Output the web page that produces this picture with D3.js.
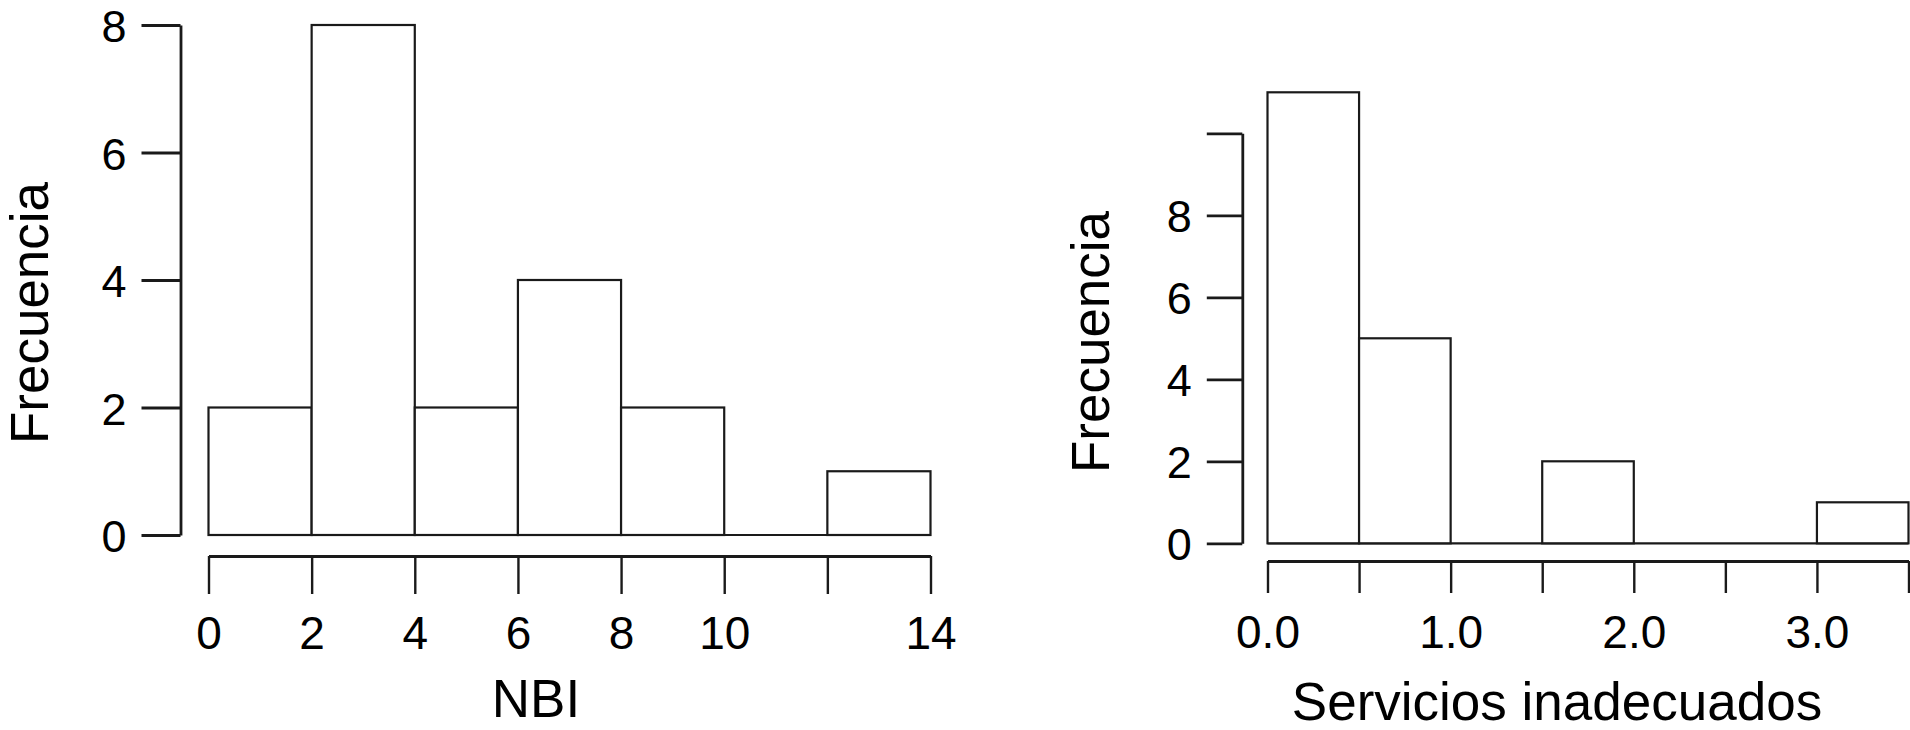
<!DOCTYPE html>
<html>
<head>
<meta charset="utf-8">
<script src="https://cdn.jsdelivr.net/npm/d3@7"></script>
<style>
  html, body { margin: 0; padding: 0; background: #fff; }
  svg { display: block; }
  text { font-family: "Liberation Sans", Arial, Helvetica, sans-serif; fill: #000; }
</style>
</head>
<body>
<svg id="chart" width="1910" height="730"></svg>
<script>
// ---- Data ----
const nbiBreaks = [0, 2, 4, 6, 8, 10, 12, 14];
const nbiCounts = [2, 8, 2, 4, 2, 0, 1];
const nbiXTicks = [0, 2, 4, 6, 8, 10, 12, 14];
const nbiXLabels = ["0", "2", "4", "6", "8", "10", "", "14"];
const nbiYTicks = [0, 2, 4, 6, 8];
const nbiYLabels = ["0", "2", "4", "6", "8"];

const servBreaks = [0, 0.5, 1.0, 1.5, 2.0, 2.5, 3.0, 3.5];
const servCounts = [11, 5, 0, 2, 0, 0, 1];
const servXTicks = [0, 0.5, 1.0, 1.5, 2.0, 2.5, 3.0, 3.5];
const servXLabels = ["0.0", "", "1.0", "", "2.0", "", "3.0", ""];
const servYTicks = [0, 2, 4, 6, 8, 10];
const servYLabels = ["0", "2", "4", "6", "8", ""];

const yTitle = "Frecuencia";
const xTitleLeft = "NBI";
const xTitleRight = "Servicios inadecuados";

// ---- Drawing ----
const svg = d3.select("#chart");
const INK = "#1a1a1a";

function drawHist(cfg) {
  const g = svg.append("g");
  const x = d3.scaleLinear().domain(cfg.xDomain).range(cfg.xRange);
  const y = d3.scaleLinear().domain(cfg.yDomain).range(cfg.yRange);

  const bins = cfg.counts.map((c, i) => ({ x0: cfg.breaks[i], x1: cfg.breaks[i + 1], c }));

  // baseline under all bins (zero-height bins show as a line)
  g.append("line")
    .attr("x1", x(cfg.breaks[0]))
    .attr("x2", x(cfg.breaks[cfg.breaks.length - 1]))
    .attr("y1", y(0)).attr("y2", y(0))
    .attr("stroke", INK).attr("stroke-width", 2.2);

  g.selectAll("rect.bar").data(bins.filter(d => d.c > 0)).join("rect")
    .attr("class", "bar")
    .attr("x", d => x(d.x0))
    .attr("width", d => x(d.x1) - x(d.x0))
    .attr("y", d => y(d.c))
    .attr("height", d => y(0) - y(d.c))
    .attr("fill", "#fff")
    .attr("stroke", INK)
    .attr("stroke-width", 2.2);

  // y axis
  const yAxis = d3.axisLeft(y)
    .tickValues(cfg.yTicks)
    .tickFormat((d, i) => cfg.yLabels[i])
    .tickSize(cfg.yTickLen)
    .tickSizeOuter(0)
    .tickPadding(15);
  const ga = g.append("g").attr("transform", `translate(${cfg.yAxisX},0)`).call(yAxis);
  ga.select(".domain").attr("stroke", INK).attr("stroke-width", 2.8);
  ga.selectAll(".tick line").attr("stroke", INK).attr("stroke-width", 2.8);
  ga.selectAll(".tick text").attr("font-size", 45).attr("dy", "0.37em").attr("fill", "#000");

  // x axis
  const xAxis = d3.axisBottom(x)
    .tickValues(cfg.xTicks)
    .tickFormat((d, i) => cfg.xLabels[i])
    .tickSize(cfg.xTickLen)
    .tickSizeOuter(0)
    .tickPadding(22);
  const gx = g.append("g").attr("transform", `translate(0,${cfg.xAxisY})`).call(xAxis);
  gx.select(".domain").attr("stroke", INK).attr("stroke-width", 3);
  gx.selectAll(".tick line").attr("stroke", INK).attr("stroke-width", 2.4);
  gx.selectAll(".tick text").attr("font-size", 46).attr("fill", "#000");

  // titles
  g.append("text")
    .attr("transform", `translate(${cfg.yTitleX},${cfg.yTitleY}) rotate(-90)`)
    .attr("text-anchor", "middle")
    .attr("font-size", 53)
    .text(yTitle);
  g.append("text")
    .attr("x", cfg.xTitleX)
    .attr("y", cfg.xTitleY)
    .attr("text-anchor", "middle")
    .attr("font-size", 53)
    .text(cfg.xTitle);
}

drawHist({
  breaks: nbiBreaks, counts: nbiCounts,
  xTicks: nbiXTicks, xLabels: nbiXLabels,
  yTicks: nbiYTicks, yLabels: nbiYLabels,
  xDomain: [0, 14], xRange: [208.5, 930.5],
  yDomain: [0, 8], yRange: [535, 25],
  yAxisX: 180.5, yTickLen: 39,
  xAxisY: 556, xTickLen: 38,
  yTitleX: 48, yTitleY: 313,
  xTitle: xTitleLeft, xTitleX: 536, xTitleY: 717
});

drawHist({
  breaks: servBreaks, counts: servCounts,
  xTicks: servXTicks, xLabels: servXLabels,
  yTicks: servYTicks, yLabels: servYLabels,
  xDomain: [0, 3.5], xRange: [1267.5, 1908.5],
  yDomain: [0, 10], yRange: [543.3, 133.3],
  yAxisX: 1242.3, yTickLen: 35.5,
  xAxisY: 561, xTickLen: 32,
  yTitleX: 1109, yTitleY: 342,
  xTitle: xTitleRight, xTitleX: 1557, xTitleY: 720
});
</script>
</body>
</html>
